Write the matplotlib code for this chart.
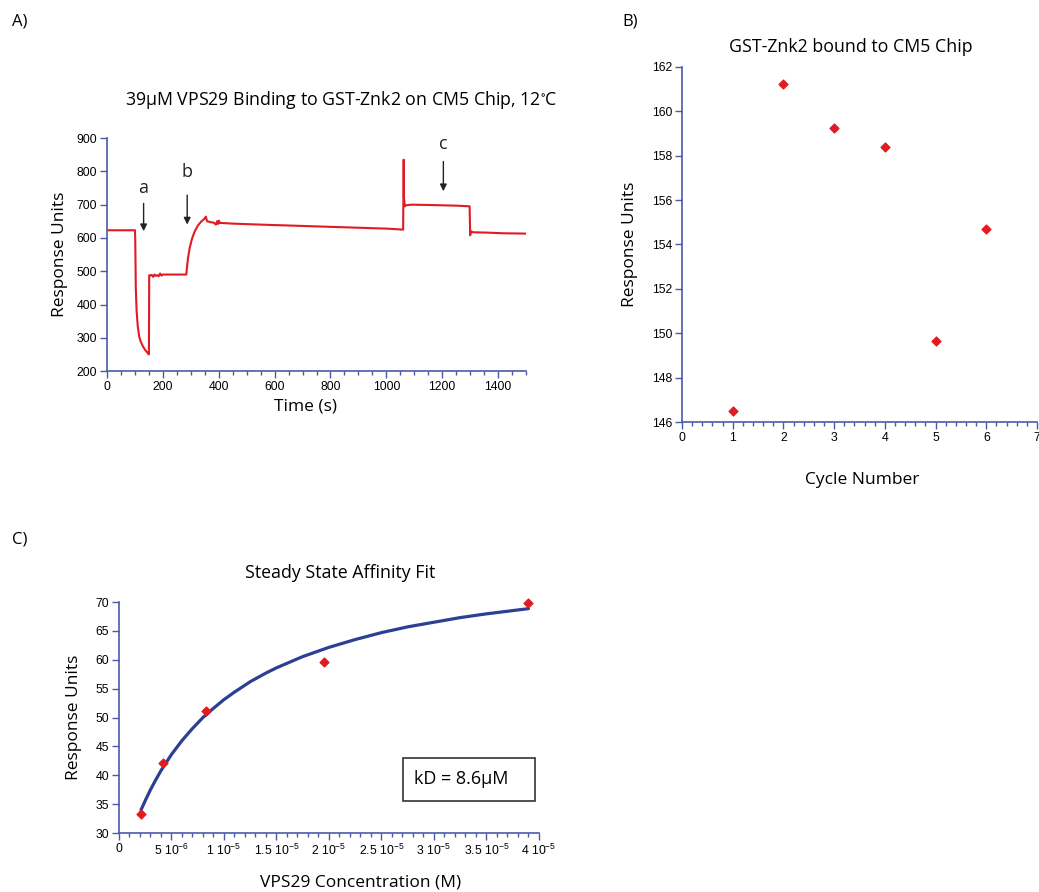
import numpy as np
import matplotlib
matplotlib.use('Agg')
import matplotlib.pyplot as plt
from matplotlib.ticker import MultipleLocator
from matplotlib.patches import Rectangle

plt.rcParams['mathtext.default'] = 'regular'

# Panel A: sensorgram trace
time_s = [0, 100, 101, 103, 106, 110, 115, 120, 128, 136, 144, 150, 151, 155, 160, 165, 170, 175,
          180, 185, 190, 195, 200, 220, 250, 284, 286, 290, 296, 304, 314, 326, 338, 348, 354, 358,
          364, 372, 382, 390, 394, 398, 400, 404, 410, 450, 550, 700, 850, 1000, 1060, 1062, 1063,
          1066, 1070, 1090, 1150, 1250, 1298, 1300, 1303, 1310, 1360, 1420, 1500]
response = [623, 623, 600, 450, 380, 335, 305, 290, 275, 264, 256, 250, 488, 487, 489, 483, 490, 486,
            488, 485, 493, 487, 490, 490, 490, 490, 510, 540, 570, 597, 620, 638, 650, 657, 664, 650,
            649, 647, 646, 640, 650, 642, 652, 645, 645, 643, 640, 636, 632, 628, 625, 835, 720,
            695, 698, 700, 699, 697, 695, 608, 620, 617, 616, 614, 613]
arrow_labels = ['a', 'b', 'c']
arrow_x = [131, 287, 1204]
arrow_top = [712, 737, 838]
arrow_tip = [612, 632, 732]
label_y = [751, 797, 882]

# Panel B: immobilisation level per cycle
cycle = [1, 2, 3, 4, 5, 6]
cycle_ru = [146.5, 161.25, 159.25, 158.4, 149.65, 154.7]

# Panel C: steady state affinity
conc = [2.1e-6, 4.2e-6, 8.3e-6, 1.95e-5, 3.9e-5]
conc_ru = [33.3, 42.2, 51.2, 59.7, 69.8]
fit_conc = [2.1e-6, 2.5e-6, 3e-6, 3.5e-6, 4e-6, 4.5e-6, 5e-6, 6e-6, 7e-6, 8e-6, 9e-6, 1e-5, 1.1e-5,
            1.25e-5, 1.4e-5, 1.5e-5, 1.75e-5, 2e-5, 2.25e-5, 2.5e-5, 2.75e-5, 3e-5, 3.25e-5, 3.5e-5,
            3.7e-5, 3.9e-5]
fit_ru = [34.0, 35.6, 37.5, 39.2, 40.8, 42.2, 43.6, 46.0, 48.1, 50.0, 51.6, 53.1, 54.4,
          56.2, 57.7, 58.6, 60.55, 62.15, 63.5, 64.7, 65.7, 66.5, 67.3, 67.95, 68.4, 68.85]
conc_ticks = [0, 5e-6, 1e-5, 1.5e-5, 2e-5, 2.5e-5, 3e-5, 3.5e-5, 4e-5]
conc_ticklabels = ['0', r'5 10$^{-6}$', r'1 10$^{-5}$', r'1.5 10$^{-5}$', r'2 10$^{-5}$',
                   r'2.5 10$^{-5}$', r'3 10$^{-5}$', r'3.5 10$^{-5}$', r'4 10$^{-5}$']

RED = '#e01b22'
BLUE = '#2b3f94'
AXIS = '#4a5aa8'
LABEL_FONT = 'Open Sans'
TICK_FONT = 'Liberation Sans'

fig = plt.figure(figsize=(10.39, 8.92), dpi=100)


def style_axes(ax):
    for s in ['top', 'right']:
        ax.spines[s].set_visible(False)
    for s in ['left', 'bottom']:
        ax.spines[s].set_color(AXIS)
        ax.spines[s].set_linewidth(1.2)
    ax.tick_params(which='major', direction='out', length=5, width=1, color=AXIS,
                   labelsize=8.8, pad=2)
    ax.tick_params(which='minor', direction='out', length=3, width=1, color=AXIS)
    ax.tick_params(axis='y', which='minor', left=False)
    for lab in ax.get_xticklabels() + ax.get_yticklabels():
        lab.set_fontfamily(TICK_FONT)


# A)
axA = fig.add_axes([0.103, 0.584, 0.4033, 0.2612])
axA.plot(time_s, response, color=RED, lw=1.5)
axA.set_xlim(0, 1500)
axA.set_ylim(200, 900)
axA.xaxis.set_major_locator(MultipleLocator(200))
axA.xaxis.set_minor_locator(MultipleLocator(50))
axA.yaxis.set_major_locator(MultipleLocator(100))
style_axes(axA)
for lab, x, yt, yp, yl in zip(arrow_labels, arrow_x, arrow_top, arrow_tip, label_y):
    axA.annotate('', xy=(x, yp), xytext=(x, yt),
                 arrowprops=dict(arrowstyle='-|>', color='#222222', lw=1, mutation_scale=10))
    axA.text(x, yl, lab, ha='center', va='center', fontsize=13, family=LABEL_FONT, color='#222222')
axA.set_title('39µM VPS29 Binding to GST-Znk2 on CM5 Chip, 12$^{\\circ}$C',
              fontsize=12.8, family=LABEL_FONT, pad=24, x=0.558)
axA.set_xlabel('Time (s)', fontsize=12.5, family=LABEL_FONT, labelpad=4, x=0.4726)
axA.set_ylabel('Response Units', fontsize=12.5, family=LABEL_FONT, labelpad=6)

# B)
axB = fig.add_axes([0.6564, 0.5269, 0.3417, 0.398])
axB.scatter(cycle, cycle_ru, marker='D', s=20, color=RED, zorder=3)
axB.set_xlim(0, 7)
axB.set_ylim(146, 162)
axB.xaxis.set_major_locator(MultipleLocator(1))
axB.xaxis.set_minor_locator(MultipleLocator(0.2))
axB.yaxis.set_major_locator(MultipleLocator(2))
style_axes(axB)
axB.set_title('GST-Znk2 bound to CM5 Chip', fontsize=12.8, family=LABEL_FONT, pad=11, x=0.476)
axB.set_xlabel('Cycle Number', fontsize=12.5, family=LABEL_FONT, labelpad=20, x=0.507)
axB.set_ylabel('Response Units', fontsize=12.5, family=LABEL_FONT, labelpad=10)

# C)
axC = fig.add_axes([0.1145, 0.0661, 0.4042, 0.259])
axC.plot(fit_conc, fit_ru, color=BLUE, lw=2.3, zorder=2, solid_capstyle='round')
axC.scatter(conc, conc_ru, marker='D', s=20, color=RED, zorder=3, clip_on=False)
axC.set_xlim(0, 4e-5)
axC.set_ylim(30, 70)
axC.set_xticks(conc_ticks)
axC.set_xticklabels(conc_ticklabels)
axC.xaxis.set_minor_locator(MultipleLocator(1e-6))
axC.yaxis.set_major_locator(MultipleLocator(5))
style_axes(axC)
axC.add_patch(Rectangle((0.676, 0.1385), 0.314, 0.1865, transform=axC.transAxes,
                        fill=False, edgecolor='#333333', lw=1.2, clip_on=False))
axC.text(0.815, 0.232, 'kD = 8.6µM', transform=axC.transAxes, ha='center', va='center',
         fontsize=13, family=LABEL_FONT)
axC.set_title('Steady State Affinity Fit', fontsize=12.8, family=LABEL_FONT, pad=17, x=0.526)
axC.set_xlabel('VPS29 Concentration (M)', fontsize=12.5, family=LABEL_FONT, labelpad=12, x=0.576)
axC.set_ylabel('Response Units', fontsize=12.5, family=LABEL_FONT, labelpad=10)

fig.text(12 / 1039, 1 - 22 / 892, 'A)', fontsize=12, family=LABEL_FONT, va='center')
fig.text(622 / 1039, 1 - 22 / 892, 'B)', fontsize=12, family=LABEL_FONT, va='center')
fig.text(12 / 1039, 1 - 540 / 892, 'C)', fontsize=12, family=LABEL_FONT, va='center')

fig.savefig('out.png', dpi=100)
